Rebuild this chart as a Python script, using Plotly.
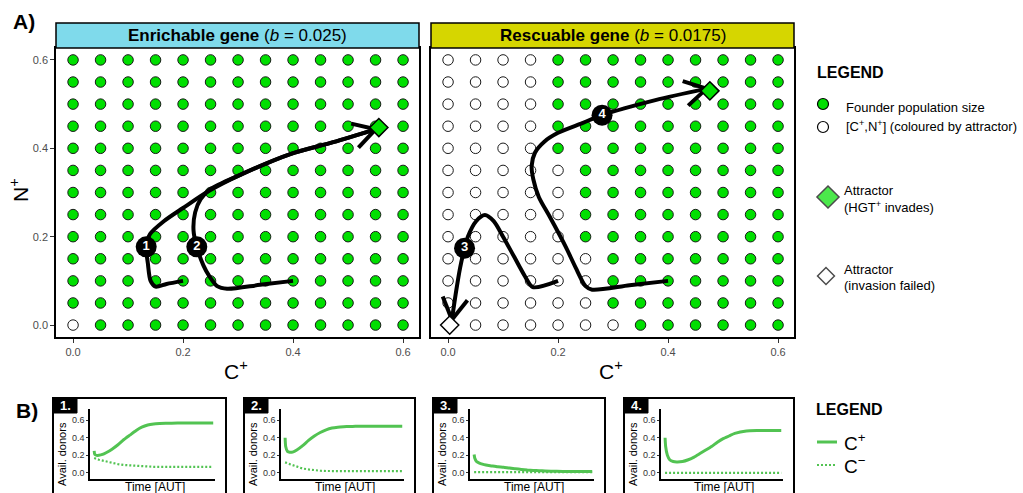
import math
import plotly.graph_objects as go

W, H = 1023, 493
FONT = "Liberation Sans, Arial, sans-serif"
GREEN = "#00DF00"
LGREEN = "#52C352"

# ---------------- DATA ----------------
GRID = [0.0, 0.05, 0.10, 0.15, 0.20, 0.25, 0.30, 0.35, 0.40, 0.45, 0.50, 0.55, 0.60]
TICKS = [0.0, 0.2, 0.4, 0.6]
TICK_LABELS = ["0.0", "0.2", "0.4", "0.6"]

# Enrichable gene: founder populations whose attractor is "invasion failed"
ENRICH_FAIL_C = [0.0]
ENRICH_FAIL_N = [0.0]
# Rescuable gene: for each N+ row, the smallest C+ that reaches the HGT+ attractor
RESCUE_ROW_N = GRID
RESCUE_GREEN_FROM_C = [0.35, 0.30, 0.30, 0.30, 0.25, 0.25, 0.25, 0.25, 0.20, 0.20, 0.20, 0.20, 0.20]

ATTR_ENRICH = (0.556, 0.447)
ATTR_RESCUE_OK = (0.476, 0.530)
ATTR_RESCUE_FAIL = (0.003, 0.0)

TRAJ1_C = [0.200, 0.170, 0.150, 0.141, 0.136, 0.133, 0.140, 0.165, 0.200, 0.249, 0.304, 0.395, 0.473, 0.550]
TRAJ1_N = [0.100, 0.093, 0.087, 0.100, 0.140, 0.177, 0.206, 0.235, 0.265, 0.305, 0.340, 0.387, 0.414, 0.443]
TRAJ2_C = [0.400, 0.340, 0.280, 0.262, 0.248, 0.237, 0.225, 0.219, 0.222, 0.232, 0.249, 0.304, 0.395, 0.473, 0.550]
TRAJ2_N = [0.100, 0.091, 0.082, 0.088, 0.110, 0.135, 0.177, 0.215, 0.255, 0.285, 0.307, 0.340, 0.387, 0.414, 0.443]
TRAJ3_C = [0.200, 0.154, 0.140, 0.120, 0.100, 0.083, 0.067, 0.051, 0.036, 0.030, 0.022, 0.015, 0.007]
TRAJ3_N = [0.100, 0.086, 0.110, 0.155, 0.200, 0.235, 0.249, 0.235, 0.200, 0.174, 0.130, 0.079, 0.012]
TRAJ4_C = [0.400, 0.330, 0.262, 0.250, 0.232, 0.214, 0.185, 0.165, 0.155, 0.152, 0.158, 0.175, 0.200, 0.244, 0.280, 0.377, 0.470]
TRAJ4_N = [0.100, 0.090, 0.080, 0.088, 0.130, 0.177, 0.245, 0.290, 0.330, 0.360, 0.390, 0.415, 0.435, 0.457, 0.475, 0.509, 0.535]
LABELS = ["1", "2", "3", "4"]
LABEL_C = [0.133, 0.225, 0.030, 0.280]
LABEL_N = [0.177, 0.177, 0.174, 0.475]

TIME = [0, 0.5, 2, 4, 7, 10, 15, 20, 25, 30, 35, 40, 45, 50, 55, 60, 70, 80, 100]
P1_CPLUS = [0.25, 0.21, 0.20, 0.20, 0.21, 0.23, 0.27, 0.32, 0.38, 0.43, 0.48, 0.52, 0.545, 0.557, 0.562, 0.565, 0.567, 0.567, 0.567]
P1_CMINUS = [0.17, 0.165, 0.16, 0.15, 0.14, 0.13, 0.115, 0.10, 0.09, 0.085, 0.08, 0.075, 0.072, 0.07, 0.069, 0.068, 0.068, 0.068, 0.068]
P2_CPLUS = [0.40, 0.30, 0.245, 0.235, 0.24, 0.26, 0.31, 0.37, 0.42, 0.46, 0.49, 0.51, 0.52, 0.525, 0.528, 0.53, 0.53, 0.53, 0.53]
P2_CMINUS = [0.12, 0.115, 0.11, 0.10, 0.085, 0.07, 0.05, 0.04, 0.03, 0.025, 0.022, 0.02, 0.02, 0.02, 0.02, 0.02, 0.02, 0.02, 0.02]
P3_CPLUS = [0.21, 0.17, 0.13, 0.115, 0.10, 0.09, 0.08, 0.07, 0.065, 0.055, 0.048, 0.04, 0.033, 0.028, 0.025, 0.022, 0.018, 0.016, 0.015]
P3_CMINUS = [0.01] * 19
P4_CPLUS = [0.40, 0.30, 0.20, 0.15, 0.13, 0.125, 0.13, 0.15, 0.18, 0.22, 0.26, 0.30, 0.35, 0.39, 0.42, 0.45, 0.478, 0.482, 0.483]
P4_CMINUS = [0.0] * 19
B_PANELS = [("1.", P1_CPLUS, P1_CMINUS), ("2.", P2_CPLUS, P2_CMINUS),
            ("3.", P3_CPLUS, P3_CMINUS), ("4.", P4_CPLUS, P4_CMINUS)]

# ---------------- LAYOUT HELPERS ----------------
def px(x):
    return x / W

def py(y):
    return 1 - y / H

XR = [-0.031, 0.629]
YR = [-0.027, 0.627]
A_PANELS = [(56, 419), (431, 794)]
A_TOP, A_BOT = 48, 337
DOT = "2px,2px"

fig = go.Figure()
shapes = []
annotations = []

def add_traj(xs, ys, ax):
    xa, ya = ("x", "y") if ax == 1 else ("x2", "y2")
    fig.add_trace(go.Scatter(x=xs, y=ys, mode="lines", xaxis=xa, yaxis=ya,
                             line=dict(color="black", width=4, shape="spline", smoothing=0.8),
                             hoverinfo="skip", showlegend=False))

def arrow_wings(xs, ys, panel, length=25, ang=30):
    x0, x1 = A_PANELS[panel]
    sx = (x1 - x0) / (XR[1] - XR[0])
    sy = (A_BOT - A_TOP) / (YR[1] - YR[0])
    tx, ty = xs[-1], ys[-1]
    dxp = (xs[-1] - xs[-2]) * sx
    dyp = (ys[-1] - ys[-2]) * sy
    n = math.hypot(dxp, dyp)
    ux, uy = dxp / n, dyp / n
    wx, wy = [], []
    for s in (1, -1):
        a = math.radians(ang * s)
        rx = ux * math.cos(a) - uy * math.sin(a)
        ry = ux * math.sin(a) + uy * math.cos(a)
        wx += [tx - length * rx / sx, tx, None]
        wy += [ty - length * ry / sy, ty, None]
    return wx, wy

# ---- grid dots ----
for panel in (0, 1):
    xa, ya = ("x", "y") if panel == 0 else ("x2", "y2")
    xs, ys, cols = [], [], []
    for j, n in enumerate(GRID):
        for c in GRID:
            xs.append(c)
            ys.append(n)
            if panel == 0:
                fail = any(abs(c - fc) < 1e-9 and abs(n - fn) < 1e-9 for fc, fn in zip(ENRICH_FAIL_C, ENRICH_FAIL_N))
            else:
                fail = c < RESCUE_GREEN_FROM_C[j] - 1e-9
            cols.append("white" if fail else GREEN)
    fig.add_trace(go.Scatter(x=xs, y=ys, mode="markers", xaxis=xa, yaxis=ya,
                             marker=dict(size=10.5, color=cols, line=dict(color="#1a1a1a", width=1)),
                             hoverinfo="skip", showlegend=False))

# ---- trajectories ----
add_traj(TRAJ1_C, TRAJ1_N, 1)
add_traj(TRAJ2_C, TRAJ2_N, 1)
add_traj(TRAJ3_C, TRAJ3_N, 2)
add_traj(TRAJ4_C, TRAJ4_N, 2)
for xs, ys, panel in [(TRAJ1_C, TRAJ1_N, 0), (TRAJ3_C, TRAJ3_N, 1), (TRAJ4_C, TRAJ4_N, 1)]:
    wx, wy = arrow_wings(xs, ys, panel)
    xa, ya = ("x", "y") if panel == 0 else ("x2", "y2")
    fig.add_trace(go.Scatter(x=wx, y=wy, mode="lines", xaxis=xa, yaxis=ya,
                             line=dict(color="black", width=4), hoverinfo="skip", showlegend=False))

# ---- attractors ----
fig.add_trace(go.Scatter(x=[ATTR_ENRICH[0]], y=[ATTR_ENRICH[1]], mode="markers", xaxis="x", yaxis="y",
                         marker=dict(symbol="diamond", size=14, color=GREEN, line=dict(color="black", width=1.5)),
                         hoverinfo="skip", showlegend=False))
fig.add_trace(go.Scatter(x=[ATTR_RESCUE_OK[0], ATTR_RESCUE_FAIL[0]], y=[ATTR_RESCUE_OK[1], ATTR_RESCUE_FAIL[1]],
                         mode="markers", xaxis="x2", yaxis="y2",
                         marker=dict(symbol="diamond", size=14, color=[GREEN, "white"], line=dict(color="black", width=1.5)),
                         hoverinfo="skip", showlegend=False))

# ---- trajectory labels ----
for i, lab in enumerate(LABELS):
    xa, ya = ("x", "y") if i < 2 else ("x2", "y2")
    fig.add_trace(go.Scatter(x=[LABEL_C[i]], y=[LABEL_N[i]], mode="markers+text", xaxis=xa, yaxis=ya,
                             text=["<b>%s</b>" % lab], textposition="middle center",
                             textfont=dict(color="white", size=13, family=FONT),
                             marker=dict(size=21, color="black"), hoverinfo="skip", showlegend=False))

axis_common = dict(showgrid=False, zeroline=False, showline=True, mirror=True, linecolor="black",
                   linewidth=1.5, ticks="outside", ticklen=4, tickcolor="#333333", tickwidth=1,
                   tickfont=dict(size=11, color="#4D4D4D", family=FONT),
                   tickvals=TICKS, ticktext=TICK_LABELS)
layout = {}
for i, (x0, x1) in enumerate(A_PANELS):
    sfx = "" if i == 0 else "2"
    layout["xaxis" + sfx] = dict(axis_common, domain=[px(x0), px(x1)], range=XR,
                                 anchor="y" + sfx)
    yax = dict(axis_common, domain=[py(A_BOT), py(A_TOP)], range=YR, anchor="x" + sfx)
    if i == 1:
        yax.update(showticklabels=False, ticks="", tickvals=[], ticktext=[])
    layout["yaxis" + sfx] = yax
    shapes.append(dict(type="rect", xref="paper", yref="paper", x0=px(x0), x1=px(x1),
                       y0=py(48), y1=py(23), fillcolor="#7FDAEB" if i == 0 else "#D6D600",
                       line=dict(color="black", width=1.5), layer="above"))
    annotations.append(dict(x=px((x0 + x1) / 2), y=py(35.5), xref="paper", yref="paper",
                            showarrow=False, xanchor="center", yanchor="middle",
                            font=dict(size=17, color="black", family=FONT),
                            text=("<b>Enrichable gene</b> (<i>b</i> = 0.025)" if i == 0
                                  else "<b>Rescuable gene</b> (<i>b</i> = 0.0175)")))
    annotations.append(dict(x=px((x0 + x1) / 2 - 2), y=py(370), xref="paper", yref="paper",
                            showarrow=False, xanchor="center", yanchor="middle",
                            font=dict(size=21, color="black", family=FONT), text="C<sup>+</sup>"))

annotations.append(dict(x=px(19), y=py(190), xref="paper", yref="paper", showarrow=False,
                        textangle=-90, xanchor="center", yanchor="middle",
                        font=dict(size=21, color="black", family=FONT), text="N<sup>+</sup>"))
annotations.append(dict(x=px(11), y=py(22), xref="paper", yref="paper", showarrow=False,
                        xanchor="left", yanchor="middle",
                        font=dict(size=21, color="black", family=FONT), text="<b>A)</b>"))
annotations.append(dict(x=px(14), y=py(410), xref="paper", yref="paper", showarrow=False,
                        xanchor="left", yanchor="middle",
                        font=dict(size=21, color="black", family=FONT), text="<b>B)</b>"))

# ---------------- PANEL B ----------------
BOX_LEFT = [53, 244, 433, 624]
BOX_RIGHT = [226, 415, 605, 794]
for k, (lab, cp, cm) in enumerate(B_PANELS):
    bl, br = BOX_LEFT[k], BOX_RIGHT[k]
    n = k + 3
    xa, ya = "x%d" % n, "y%d" % n
    fig.add_trace(go.Scatter(x=TIME, y=cm, mode="lines", xaxis=xa, yaxis=ya,
                             line=dict(color=LGREEN, width=2.2, dash=DOT), hoverinfo="skip", showlegend=False))
    fig.add_trace(go.Scatter(x=TIME, y=cp, mode="lines", xaxis=xa, yaxis=ya,
                             line=dict(color=LGREEN, width=3, shape="spline", smoothing=0.5),
                             hoverinfo="skip", showlegend=False))
    ax0, ax1 = bl + 37, br - 11
    layout["xaxis%d" % n] = dict(domain=[px(ax0), px(ax1)], range=[-3.5, 101.5], anchor=ya,
                                 showgrid=False, zeroline=False, showline=True, linecolor="black",
                                 linewidth=1.5, showticklabels=False, ticks="", tickvals=[])
    layout["yaxis%d" % n] = dict(domain=[py(479), py(409)], range=[-0.069, 0.727], anchor=xa,
                                 showgrid=False, zeroline=False, showline=True, linecolor="black",
                                 linewidth=1.5, ticks="outside", ticklen=2, tickcolor="#333333",
                                 tickvals=TICKS, ticktext=TICK_LABELS,
                                 tickfont=dict(size=9, color="#333333", family=FONT))
    shapes.append(dict(type="rect", xref="paper", yref="paper", x0=px(bl), x1=px(br),
                       y0=py(520), y1=py(398), line=dict(color="black", width=2), fillcolor="rgba(0,0,0,0)"))
    shapes.append(dict(type="rect", xref="paper", yref="paper", x0=px(bl), x1=px(bl + 24),
                       y0=py(413), y1=py(398), line=dict(color="black", width=1), fillcolor="black"))
    annotations.append(dict(x=px(bl + 12), y=py(405.5), xref="paper", yref="paper", showarrow=False,
                            xanchor="center", yanchor="middle",
                            font=dict(size=13, color="white", family=FONT), text="<b>%s</b>" % lab))
    annotations.append(dict(x=px(bl + 9), y=py(454), xref="paper", yref="paper", showarrow=False,
                            textangle=-90, xanchor="center", yanchor="middle",
                            font=dict(size=11, color="black", family=FONT), text="Avail. donors"))
    annotations.append(dict(x=px((ax0 + ax1) / 2 + 2), y=py(487), xref="paper", yref="paper", showarrow=False,
                            xanchor="center", yanchor="middle",
                            font=dict(size=12, color="black", family=FONT), text="Time [AUT]"))

# ---------------- LEGENDS (pixel overlay axis) ----------------
layout["xaxis7"] = dict(domain=[0, 1], range=[0, W], visible=False, showticklabels=False,
                        tickvals=[], anchor="y7", fixedrange=True)
layout["yaxis7"] = dict(domain=[0, 1], range=[H, 0], visible=False, showticklabels=False,
                        tickvals=[], anchor="x7", fixedrange=True)
fig.add_trace(go.Scatter(x=[823, 823], y=[104, 127], mode="markers", xaxis="x7", yaxis="y7",
                         marker=dict(size=11, color=[GREEN, "white"], line=dict(color="black", width=1.2)),
                         hoverinfo="skip", showlegend=False))
fig.add_trace(go.Scatter(x=[828, 826], y=[197, 276], mode="markers", xaxis="x7", yaxis="y7",
                         marker=dict(symbol="diamond", size=[17, 13], color=[GREEN, "white"],
                                     line=dict(color="black", width=1.5)),
                         hoverinfo="skip", showlegend=False))
fig.add_trace(go.Scatter(x=[817, 837], y=[442, 442], mode="lines", xaxis="x7", yaxis="y7",
                         line=dict(color=LGREEN, width=3), hoverinfo="skip", showlegend=False))
fig.add_trace(go.Scatter(x=[817, 837], y=[465, 465], mode="lines", xaxis="x7", yaxis="y7",
                         line=dict(color=LGREEN, width=2.2, dash=DOT), hoverinfo="skip", showlegend=False))

def ann_px(x, y, text, size=12, bold=False, xanchor="left"):
    annotations.append(dict(x=px(x), y=py(y), xref="paper", yref="paper", showarrow=False,
                            xanchor=xanchor, yanchor="middle",
                            font=dict(size=size, color="black", family=FONT),
                            text=("<b>%s</b>" % text) if bold else text))

ann_px(815, 73, "LEGEND", size=16, bold=True)
ann_px(844, 108, "Founder population size", size=13)
ann_px(844, 126, "[C<sup>+</sup>,N<sup>+</sup>] (coloured by attractor)", size=13)
ann_px(842, 190, "Attractor", size=13)
ann_px(842, 207, "(HGT<sup>+</sup> invades)", size=13)
ann_px(842, 269, "Attractor", size=13)
ann_px(842, 285, "(invasion failed)", size=13)
ann_px(814, 409, "LEGEND", size=16, bold=True)
ann_px(842, 442, "C<sup>+</sup>", size=19)
ann_px(842, 465, "C<sup>−</sup>", size=19)

fig.update_layout(width=W, height=H, margin=dict(l=0, r=0, t=0, b=0),
                  paper_bgcolor="white", plot_bgcolor="rgba(0,0,0,0)",
                  shapes=shapes, annotations=annotations, showlegend=False, **layout)
fig.write_html("out.html")
